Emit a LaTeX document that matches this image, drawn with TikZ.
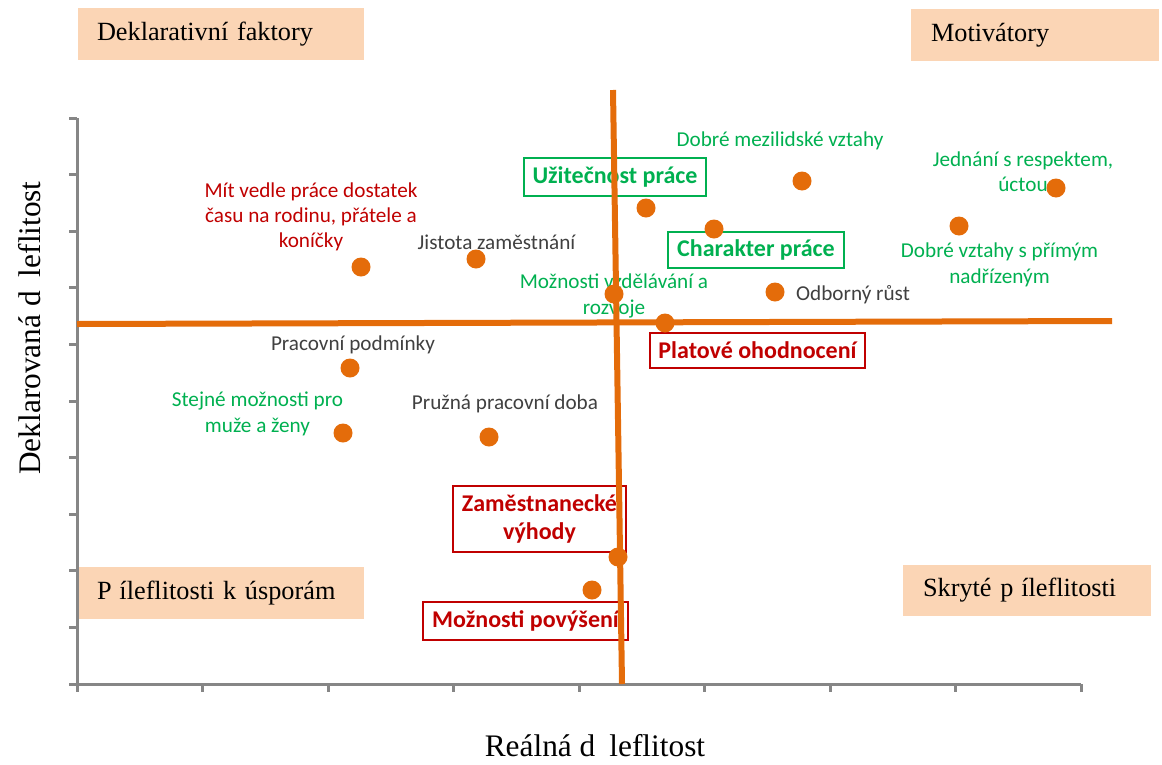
\documentclass[tikz,border=0pt]{standalone}
\usepackage{fontspec}
\setmainfont{Liberation Serif}
\newfontfamily\calfont{Carlito}
\definecolor{cgreen}{RGB}{0,176,80}
\definecolor{cred}{RGB}{192,0,0}
\definecolor{cgray}{RGB}{64,64,64}
\definecolor{corange}{RGB}{228,108,10}
\definecolor{cpeach}{RGB}{251,213,181}
\definecolor{caxis}{RGB}{134,134,134}
\begin{document}
\begin{tikzpicture}[x=0.75pt,y=-0.75pt,
  lab/.style={font=\calfont\fontsize{15.9}{19}\selectfont, inner sep=0pt, align=center},
  grn/.style={lab, text=cgreen},
  rd/.style={lab, text=cred},
  gry/.style={lab, text=cgray},
  bbox/.style={draw, line width=1.5pt, inner sep=0pt, align=center,
    font=\calfont\bfseries\fontsize{18}{21}\selectfont},
  gbox/.style={bbox, draw=cgreen, text=cgreen},
  rbox/.style={bbox, draw=cred, text=cred},
  peach/.style={fill=cpeach, inner ysep=0pt, align=left, text=black,
    font=\fontsize{19.7}{23}\selectfont},
  dot/.style={circle, fill=corange, inner sep=0pt, minimum size=14.25pt},
  oline/.style={draw=corange, line width=4.5pt},
  axis/.style={draw=caxis, line width=2.25pt},
  axlab/.style={font=\fontsize{23.5}{28}\selectfont, inner sep=0pt}
]
\useasboundingbox (0,0) rectangle (1162,764);

% quadrant labels
\node[peach, text width=186pt, inner xsep=14.25pt, minimum height=39pt] (q1) at (221,34) {Deklarativní faktory};
\node[peach, text width=156pt, inner xsep=15pt, minimum height=39pt] (q2) at (1035,35) {Motivátory};
\node[peach, text width=186pt, inner xsep=14.25pt, minimum height=39pt] (q3) at (221,593) {P\hspace{0.3em}íleflitosti k úsporám};
\node[peach, text width=156pt, inner xsep=15pt, minimum height=38.25pt] (q4) at (1027,590.5) {Skryté p\hspace{0.3em}íleflitosti};

% axes
\coordinate (yTop) at (77,118);
\coordinate (O) at (77,684);
\coordinate (xEnd) at (1081,684);
\draw[axis] (yTop) -- (O) -- (xEnd);
\foreach \i in {0,...,10} \draw[axis] (69,118+56.6*\i) -- (77,118+56.6*\i);
\foreach \i in {0,...,8} \draw[axis] (77+125.5*\i,684) -- (77+125.5*\i,692);

% axis titles
\node[axlab, rotate=90] (ylab) at (30,328) {Deklarovaná d\hspace{0.45em}leflitost};
\node[axlab] (xlab) at (595,746) {Reálná d\hspace{0.45em}leflitost};

% labels
\node[rd] (l1) at (311,217) {Mít vedle práce dostatek\\času na rodinu, přátele a\\koníčky};
\node[gry] (l2) at (496.5,242) {Jistota zaměstnání};
\node[grn] (l5) at (780,141) {Dobré mezilidské vztahy};
\node[grn] (l6) at (1023,172) {Jednání s respektem,\\úctou};
\node[grn] (l7) at (999.5,265) {Dobré vztahy s přímým\\nadřízeným};
\node[gry] (l8) at (853,295) {Odborný růst};
\node[grn] (l9) at (614,296) {Možnosti vzdělávání a\\rozvoje};
\node[gry] (l11) at (353,345) {Pracovní podmínky};
\node[grn] (l12) at (257.5,414) {Stejné možnosti pro\\muže a ženy};
\node[gry] (l13) at (505,404) {Pružná pracovní doba};

% boxed labels
\node[gbox, minimum width=136.5pt, minimum height=28.5pt] (b3) at (615,177) {Užitečnost práce};
\node[gbox, minimum width=132pt, minimum height=27pt] (b4) at (756,250) {Charakter práce};
\node[rbox, minimum width=161.25pt, minimum height=26.25pt] (b10) at (757.5,350.5) {Platové ohodnocení};
\node[rbox, minimum width=129.75pt, minimum height=49.5pt] (b14) at (539.5,519) {Zaměstnanecké\\výhody};
\node[rbox, minimum width=153.75pt, minimum height=28.5pt] (b15) at (525.5,621) {Možnosti povýšení};

% dots
\node[dot] (d1) at (361,267) {};
\node[dot] (d2) at (476,259) {};
\node[dot] (d3) at (646,208) {};
\node[dot] (d4) at (714,229) {};
\node[dot] (d5) at (802,181) {};
\node[dot] (d6) at (1056,188) {};
\node[dot] (d7) at (959,226) {};
\node[dot] (d8) at (775,292) {};
\node[dot] (d9) at (614,294) {};
\node[dot] (d10) at (665,323) {};
\node[dot] (d11) at (350,368) {};
\node[dot] (d12) at (343,433) {};
\node[dot] (d13) at (489,437) {};
\node[dot] (d14) at (618,557) {};
\node[dot] (d15) at (592,590) {};

% orange dividing lines
\coordinate (hL) at (77,324);
\coordinate (hR) at (1112,321);
\coordinate (vT) at (613,90);
\coordinate (vB) at (622,684);
\draw[oline] (hL) -- (hR);
\draw[oline] (vT) -- (vB);
\end{tikzpicture}
\end{document}
